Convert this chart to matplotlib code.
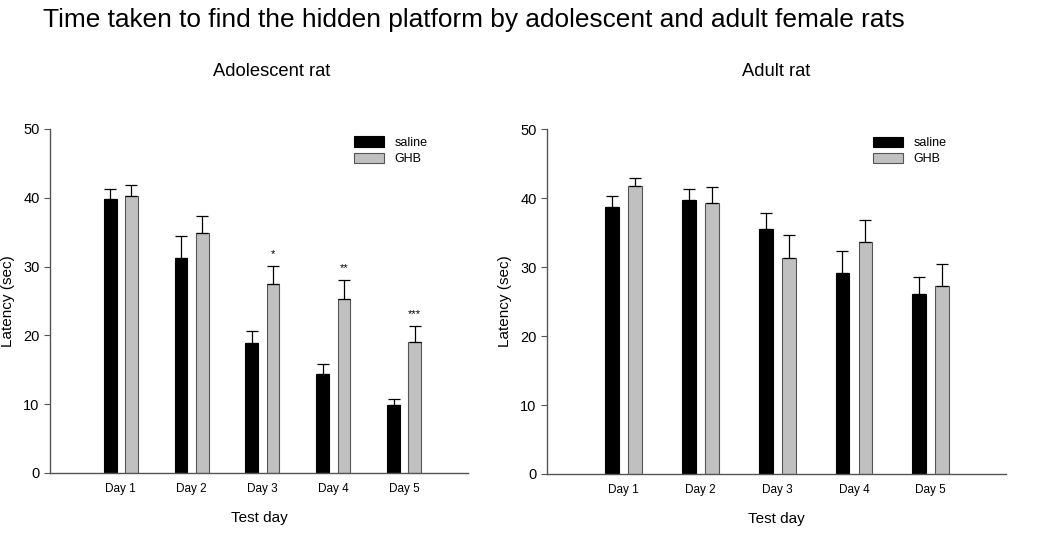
"""Latency to find the hidden platform, adolescent vs adult female rats."""
import matplotlib
matplotlib.use("Agg")
import matplotlib.pyplot as plt
import numpy as np

plt.rcParams["font.family"] = ["Liberation Sans", "DejaVu Sans"]

days = ["Day 1", "Day 2", "Day 3", "Day 4", "Day 5"]

# adolescent rats
adol_saline = [39.8, 31.2, 18.9, 14.4, 9.9]
adol_saline_err = [1.5, 3.2, 1.7, 1.5, 0.9]
adol_ghb = [40.2, 34.9, 27.4, 25.3, 19.0]
adol_ghb_err = [1.6, 2.4, 2.7, 2.8, 2.4]
adol_stars = ["", "", "*", "**", "***"]

# adult rats
adult_saline = [38.75, 39.7, 35.5, 29.2, 26.1]
adult_saline_err = [1.6, 1.6, 2.4, 3.1, 2.4]
adult_ghb = [41.8, 39.3, 31.3, 33.6, 27.2]
adult_ghb_err = [1.15, 2.25, 3.4, 3.2, 3.2]

SPINE = "#555555"


def draw_panel(ax, saline, saline_err, ghb, ghb_err, xmax, leg_x, stars=None):
    x = np.arange(1, len(days) + 1)
    w = 0.18
    off = 0.15
    ax.bar(x - off, saline, w, color="black", edgecolor="black",
           linewidth=0.8, label="saline")
    ax.bar(x + off, ghb, w, color="#c0c0c0", edgecolor=SPINE,
           linewidth=0.8, label="GHB")
    ax.errorbar(x - off, saline, yerr=[np.zeros(len(x)), saline_err],
                fmt="none", ecolor="black", elinewidth=0.9, capsize=4,
                capthick=0.9)
    ax.errorbar(x + off, ghb, yerr=[np.zeros(len(x)), ghb_err],
                fmt="none", ecolor="black", elinewidth=0.9, capsize=4,
                capthick=0.9)
    if stars:
        for xi, v, e, s in zip(x, ghb, ghb_err, stars):
            if s:
                ax.text(xi + off, v + e + 1.0, s, ha="center", va="bottom",
                        fontsize=8)
    ax.set_xlim(0, xmax)
    ax.set_ylim(0, 50)
    ax.set_yticks(range(0, 51, 10))
    ax.set_xticks(x)
    ax.set_xticklabels(days, fontsize=8.5)
    ax.tick_params(axis="x", length=0, pad=7)
    ax.tick_params(axis="y", labelsize=10.5, length=4, color=SPINE,
                   direction="out")
    for side in ("top", "right"):
        ax.spines[side].set_visible(False)
    for side in ("left", "bottom"):
        ax.spines[side].set_color(SPINE)
        ax.spines[side].set_linewidth(1.0)
    ax.set_ylabel("Latency (sec)", fontsize=11, labelpad=6)
    ax.set_xlabel("Test day", fontsize=11, labelpad=12)
    ax.legend(loc="upper left", bbox_to_anchor=(leg_x, 1.0), frameon=False,
              fontsize=9, handlelength=2.4, handleheight=0.9,
              labelspacing=0.3, borderaxespad=0.2)


fig = plt.figure(figsize=(10.5, 5.33), dpi=100)
ax1 = fig.add_axes([0.0476, 0.1126, 0.398, 0.6454])
ax2 = fig.add_axes([0.521, 0.1107, 0.437, 0.647])

draw_panel(ax1, adol_saline, adol_saline_err, adol_ghb, adol_ghb_err,
           5.9, 0.71, adol_stars)
draw_panel(ax2, adult_saline, adult_saline_err, adult_ghb, adult_ghb_err,
           5.98, 0.695)

fig.text(0.041, 0.962, "Time taken to find the hidden platform by adolescent "
         "and adult female rats", fontsize=18.9, ha="left", va="center")
fig.text(272 / 1050, 1 - 72 / 533, "Adolescent rat", fontsize=13.2,
         ha="center", va="center")
fig.text(776 / 1050, 1 - 72 / 533, "Adult rat", fontsize=13.2,
         ha="center", va="center")

fig.savefig("out.png", dpi=100)
